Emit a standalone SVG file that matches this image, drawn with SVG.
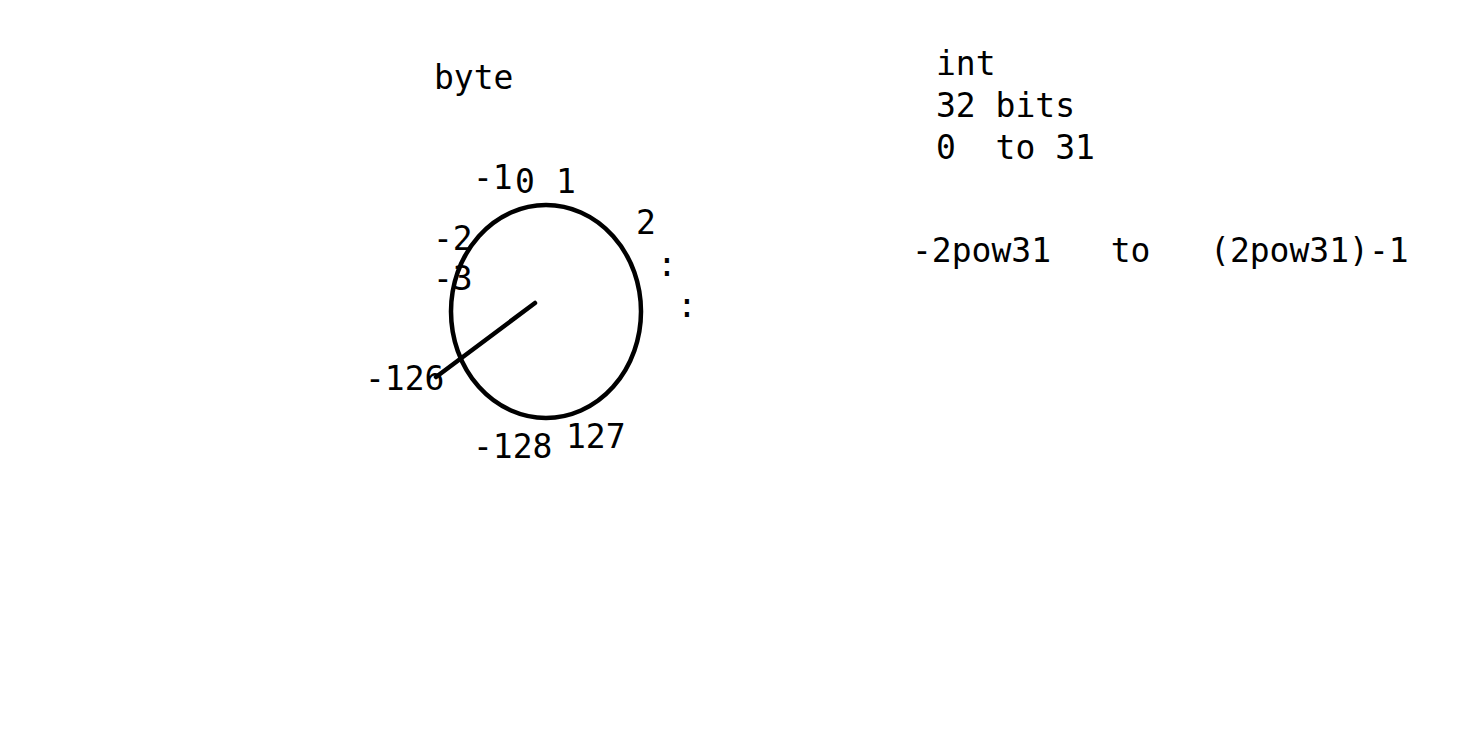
<svg xmlns="http://www.w3.org/2000/svg" width="1474" height="742" viewBox="0 0 1474 742">
<style>
text{font-family:"DejaVu Sans Mono","Liberation Mono",monospace;font-size:33px;fill:#000;white-space:pre}
.s{fill:none;stroke:#000;stroke-width:4.5;stroke-linecap:round}
</style>
<rect width="1474" height="742" fill="#fff"/>
<g id="byte-dial">
<text x="434" y="89">byte</text>
<ellipse class="s" cx="546" cy="311.5" rx="95" ry="106.5"/>
<line class="s" x1="535" y1="303" x2="436" y2="377"/>
<text x="473" y="189">-1</text>
<text x="515" y="193">0</text>
<text x="556" y="193">1</text>
<text x="636" y="234">2</text>
<text x="433" y="250">-2</text>
<text x="433" y="290">-3</text>
<text x="657" y="276">:</text>
<text x="677" y="317">:</text>
<text x="365" y="390">-126</text>
<text x="473" y="458">-128</text>
<text x="566" y="448">127</text>
</g>
<g id="int-info">
<text x="936" y="75">int</text>
<text x="936" y="117">32 bits</text>
<text x="936" y="159">0  to 31</text>
<text x="912" y="262">-2pow31   to   (2pow31)-1</text>
</g>
</svg>
